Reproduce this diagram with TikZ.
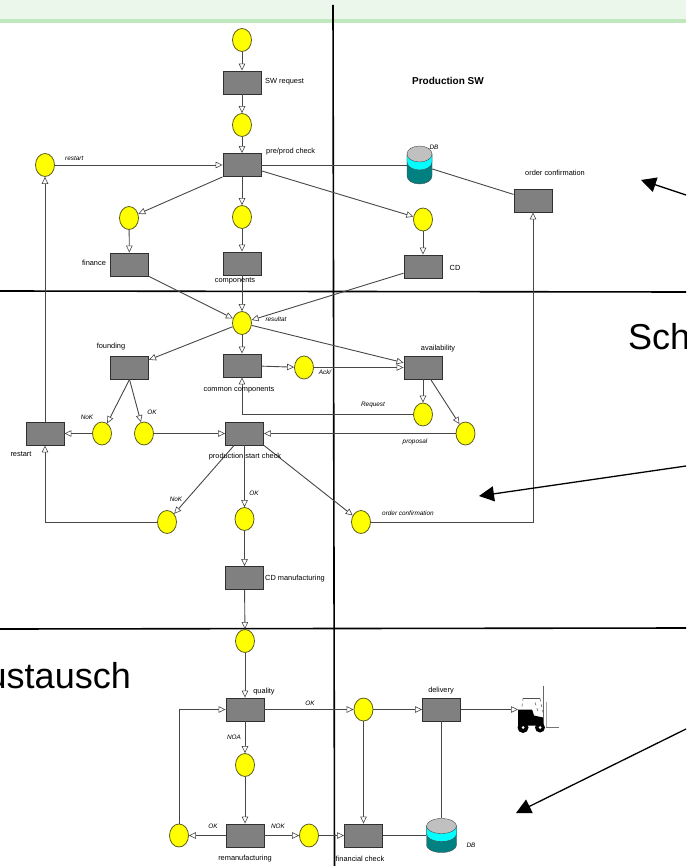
\documentclass[tikz,border=0pt]{standalone}
\usepackage{fontspec}
\setmainfont{Liberation Sans}
\usetikzlibrary{positioning,shapes.geometric,arrows.meta}
\definecolor{placefill}{HTML}{FFFF00}
\definecolor{placeline}{HTML}{5A5A20}
\definecolor{transfill}{HTML}{808080}
\definecolor{transline}{HTML}{303030}
\definecolor{bandlight}{HTML}{ECF7EC}
\definecolor{banddark}{HTML}{BFE8BF}
\definecolor{drumtop}{HTML}{C0C0C0}
\definecolor{drumcyan}{HTML}{00FFFF}
\definecolor{drumteal}{HTML}{008080}
\tikzset{
	place/.style={draw=placeline, fill=placefill, ellipse, line width=0.8pt, inner sep=0pt, minimum width=19pt, minimum height=23pt},
	trans/.style={draw=transline, fill=transfill, rectangle, line width=0.9pt, inner sep=0pt, minimum width=38pt, minimum height=23pt},
	drumbox/.style={rectangle, inner sep=0pt},
	txt/.style={inner sep=0pt, font=\fontsize{7.4}{8}\selectfont},
	txtit/.style={inner sep=0pt, font=\fontsize{6.4}{7}\selectfont\itshape},
	flow/.style={draw=black!72, line width=0.9pt, -{Triangle[fill=white, length=7pt, width=6.5pt, line width=0.6pt]}},
	link/.style={draw=black!72, line width=0.9pt},
	grid/.style={draw=black, line width=1.6pt},
	pointer/.style={draw=black, line width=1.3pt, -{Triangle[length=15pt, width=15pt]}}
}
\newcommand{\drum}[6]{%
	\node[drumbox, minimum width=#3pt*2, minimum height=#4pt*2] (#1) at (#2) {};
	\begin{scope}[shift={(#2)}]
		\draw[black!70, fill=drumteal] (-#3,-#4+#5) -- (-#3,#4-#5) arc[start angle=180, end angle=0, x radius=#3, y radius=#5] -- (#3,-#4+#5) -- cycle;
		\draw[black!70, fill=drumcyan] (-#3,-#4+#5) -- (-#3,#6) arc[start angle=180, end angle=0, x radius=#3, y radius=#5] -- (#3,-#4+#5) -- cycle;
		\draw[black!70, fill=drumtop] (0,-#4+#5) ellipse[x radius=#3, y radius=#5];
	\end{scope}
}
\begin{document}
\begin{tikzpicture}[x=1pt, y=-1pt]
	\useasboundingbox (0,0) rectangle (686,866);
	\fill[bandlight] (0,0) rectangle (686,19);
	\fill[banddark] (0,19) rectangle (686,23);

	\coordinate (vtop) at (333,5);
	\coordinate (vbot) at (334.5,866);
	\coordinate (hal) at (0,291);
	\coordinate (har) at (686,292);
	\coordinate (hbl) at (0,629);
	\coordinate (hbr) at (686,628);
	\draw[grid] (vtop) -- (vbot);
	\draw[grid] (hal) -- (har);
	\draw[grid] (hbl) -- (hbr);

	\node[place] (start) at (242,40) {};
	\node[trans] (request) at (242,82.5) {};
	\node[place] (requested) at (242,125) {};
	\node[trans] (check) at (242,165) {};
	\node[place] (restarted) at (45,165) {};
	\node[place] (pfinance) at (129,218) {};
	\node[place] (pcomponents) at (242,217) {};
	\node[place] (pcd) at (423,219.5) {};
	\node[trans] (finance) at (129.5,264.5) {};
	\node[trans] (components) at (242,263.5) {};
	\node[trans] (cd) at (423,266.5) {};
	\node[trans] (confirm) at (533,200.5) {};
	\node[place] (result) at (242,323) {};
	\node[trans] (founding) at (129.5,367.5) {};
	\node[trans] (common) at (242,365.5) {};
	\node[place] (ack) at (304,367.5) {};
	\node[trans] (avail) at (423,367.5) {};
	\node[place] (preq) at (423,414.5) {};
	\node[place] (pprop) at (465.5,433.5) {};
	\node[trans] (restart) at (45,433.5) {};
	\node[place] (pnok) at (102,433.5) {};
	\node[place] (pok) at (144,433.5) {};
	\node[trans] (startcheck) at (244.5,433.5) {};
	\node[place] (pnoktwo) at (167,522) {};
	\node[place] (poktwo) at (244.5,519) {};
	\node[place] (porder) at (361,522) {};
	\node[trans] (cdman) at (244.5,578) {};
	\node[place] (pquality) at (245,641) {};
	\node[trans] (quality) at (245,709.5) {};
	\node[place] (pnoa) at (245,765) {};
	\node[trans] (reman) at (245,835.5) {};
	\node[place] (pback) at (179,835.5) {};
	\node[place] (pnext) at (309,835.5) {};
	\node[trans] (fincheck) at (363.5,835.5) {};
	\node[place] (pdeliver) at (363.5,709.5) {};
	\node[trans] (deliver) at (441.5,709.5) {};

	\drum{dba}{419.5,165}{12.5}{19}{8}{-3}
	\drum{dbb}{441.5,835.5}{15}{17}{7.5}{-1.5}
	\draw[link] (check) -- (dba);
	\draw[link] (dba) -- (confirm);
	\draw[link] (deliver) -- (dbb);
	\draw[link] (fincheck) -- (dbb);

	\coordinate (truck) at (518,709.5);
	\begin{scope}[shift={(538,709.5)}]
		\draw[black!60, line width=1.2pt] (5.5,-24) -- (5.5,17);
		\draw[black!35, line width=1pt] (8,-8) -- (8,17);
		\draw[black!55, line width=1pt] (8,17.5) -- (21,17.5);
		\draw[black!70, line width=0.7pt] (-15,-11.5) -- (2,-11.5);
		\draw[black!55, dashed, line width=0.7pt] (-16,-3) -- (-15,-11) (2,-11) -- (5,3) (-3,-7) -- (0,2);
		\fill[black] (-20,0) -- (-6,0) -- (-4,6) -- (5,8) -- (5,16) -- (-20,16) -- cycle;
		\fill[black] (-15,18) circle[radius=5.5];
		\fill[black] (2,18) circle[radius=5];
		\fill[white] (-15,18) circle[radius=1.5];
		\fill[white] (2,18) circle[radius=1.5];
	\end{scope}

	\draw[flow] (start) -- (request);
	\draw[flow] (request) -- (requested);
	\draw[flow] (requested) -- (check);
	\draw[flow] (restarted) -- (check);
	\draw[flow] (check.south west) -- (pfinance);
	\draw[flow] (check) -- (pcomponents);
	\draw[flow] (check) -- (pcd);
	\draw[flow] (pfinance) -- (finance);
	\draw[flow] (pcomponents) -- (components);
	\draw[flow] (pcd) -- (cd);
	\draw[flow] (finance.south east) -- (result);
	\draw[flow] (components) -- (result);
	\draw[flow] (cd.199) -- (result);
	\draw[flow] (result) -- (founding);
	\draw[flow] (result) -- (common);
	\draw[flow] (result) -- (avail);
	\draw[flow] (common) -- (ack);
	\draw[flow] (ack) -- (avail);
	\draw[flow] (avail) -- (preq);
	\draw[flow] (avail) -- (pprop);
	\draw[flow] (preq) -| (common);
	\draw[flow] (pprop) -- (startcheck);
	\draw[flow] (founding.south) -- (pnok);
	\draw[flow] (founding.south) -- (pok);
	\draw[flow] (pnok) -- (restart);
	\draw[flow] (pok) -- (startcheck);
	\draw[flow] (restart) -- (restarted);
	\draw[flow] (startcheck) -- (pnoktwo);
	\draw[flow] (startcheck) -- (poktwo);
	\draw[flow] (startcheck.south east) -- (porder);
	\draw[flow] (pnoktwo) -| (restart);
	\draw[flow] (porder) -| (confirm);
	\draw[flow] (poktwo) -- (cdman);
	\draw[flow] (cdman) -- (pquality);
	\draw[flow] (pquality) -- (quality);
	\draw[flow] (quality) -- (pnoa);
	\draw[flow] (pnoa) -- (reman);
	\draw[flow] (reman) -- (pback);
	\draw[flow] (pback) |- (quality);
	\draw[flow] (reman) -- (pnext);
	\draw[flow] (pnext) -- (fincheck);
	\draw[flow] (quality) -- (pdeliver);
	\draw[flow] (pdeliver) -- (deliver);
	\draw[flow] (pdeliver) -- (fincheck);
	\draw[flow] (deliver) -- (truck);

	\node[txt, font=\fontsize{10}{12}\selectfont\bfseries] (lsw) at (448,81) {Production SW};
	\node[txt, anchor=west] (lrequest) at (265,82) {SW request};
	\node[txt, anchor=west] (lcheck) at (266,152) {pre/prod check};
	\node[txtit, anchor=west] (lrestarted) at (65,158) {restart};
	\node[txt] (lfinance) at (94,263) {finance};
	\node[txt] (lcomponents) at (235,281) {components};
	\node[txtit] (ldba) at (434,147) {DB};
	\node[txt] (lconfirm) at (555,173) {order confirmation};
	\node[txt] (lcd) at (455,268) {CD};
	\node[txtit] (lresult) at (276,319) {resultat};
	\node[txt] (lfounding) at (111,347) {founding};
	\node[txt] (lcommon) at (239,390) {common components};
	\node[txtit] (lack) at (325,372) {Ack/};
	\node[txt] (lavail) at (438,349) {availability};
	\node[txtit] (lreq) at (373,405) {Request};
	\node[txtit] (lprop) at (415,442) {proposal};
	\node[txtit] (lnok) at (87,417) {NoK};
	\node[txtit] (lok) at (152,412) {OK};
	\node[txt] (lrestart) at (21,454) {restart};
	\node[txt] (lstart) at (245,457) {production start check};
	\node[txtit] (lnoktwo) at (176,499) {NoK};
	\node[txtit] (loktwo) at (254,493) {OK};
	\node[txtit] (lorder) at (408,513) {order confirmation};
	\node[txt] (lcdman) at (295,579) {CD manufacturing};
	\node[txt] (lquality) at (264,692) {quality};
	\node[txtit] (lokq) at (310,703) {OK};
	\node[txtit] (lnoa) at (234,737) {NOA};
	\node[txtit] (lokr) at (213,826) {OK};
	\node[txtit] (lnokr) at (278,826) {NOK};
	\node[txt] (lreman) at (245,859) {remanufacturing};
	\node[txt] (lfin) at (360,859) {financial check};
	\node[txt] (ldeliver) at (441,691) {delivery};
	\node[txtit] (ldbb) at (471,845) {DB};

	\node[inner sep=0pt, font=\fontsize{36}{38}\selectfont, anchor=base west] (lsch) at (628,349) {Sch};
	\node[inner sep=0pt, font=\fontsize{36}{38}\selectfont, anchor=base east] (ltausch) at (131,688) {ustausch};

	\coordinate (aone) at (686,195);
	\coordinate (bone) at (641,180);
	\coordinate (atwo) at (686,466);
	\coordinate (btwo) at (479,496);
	\coordinate (athree) at (686,729);
	\coordinate (bthree) at (516,813);
	\draw[pointer] (aone) -- (bone);
	\draw[pointer] (atwo) -- (btwo);
	\draw[pointer] (athree) -- (bthree);
\end{tikzpicture}
\end{document}
